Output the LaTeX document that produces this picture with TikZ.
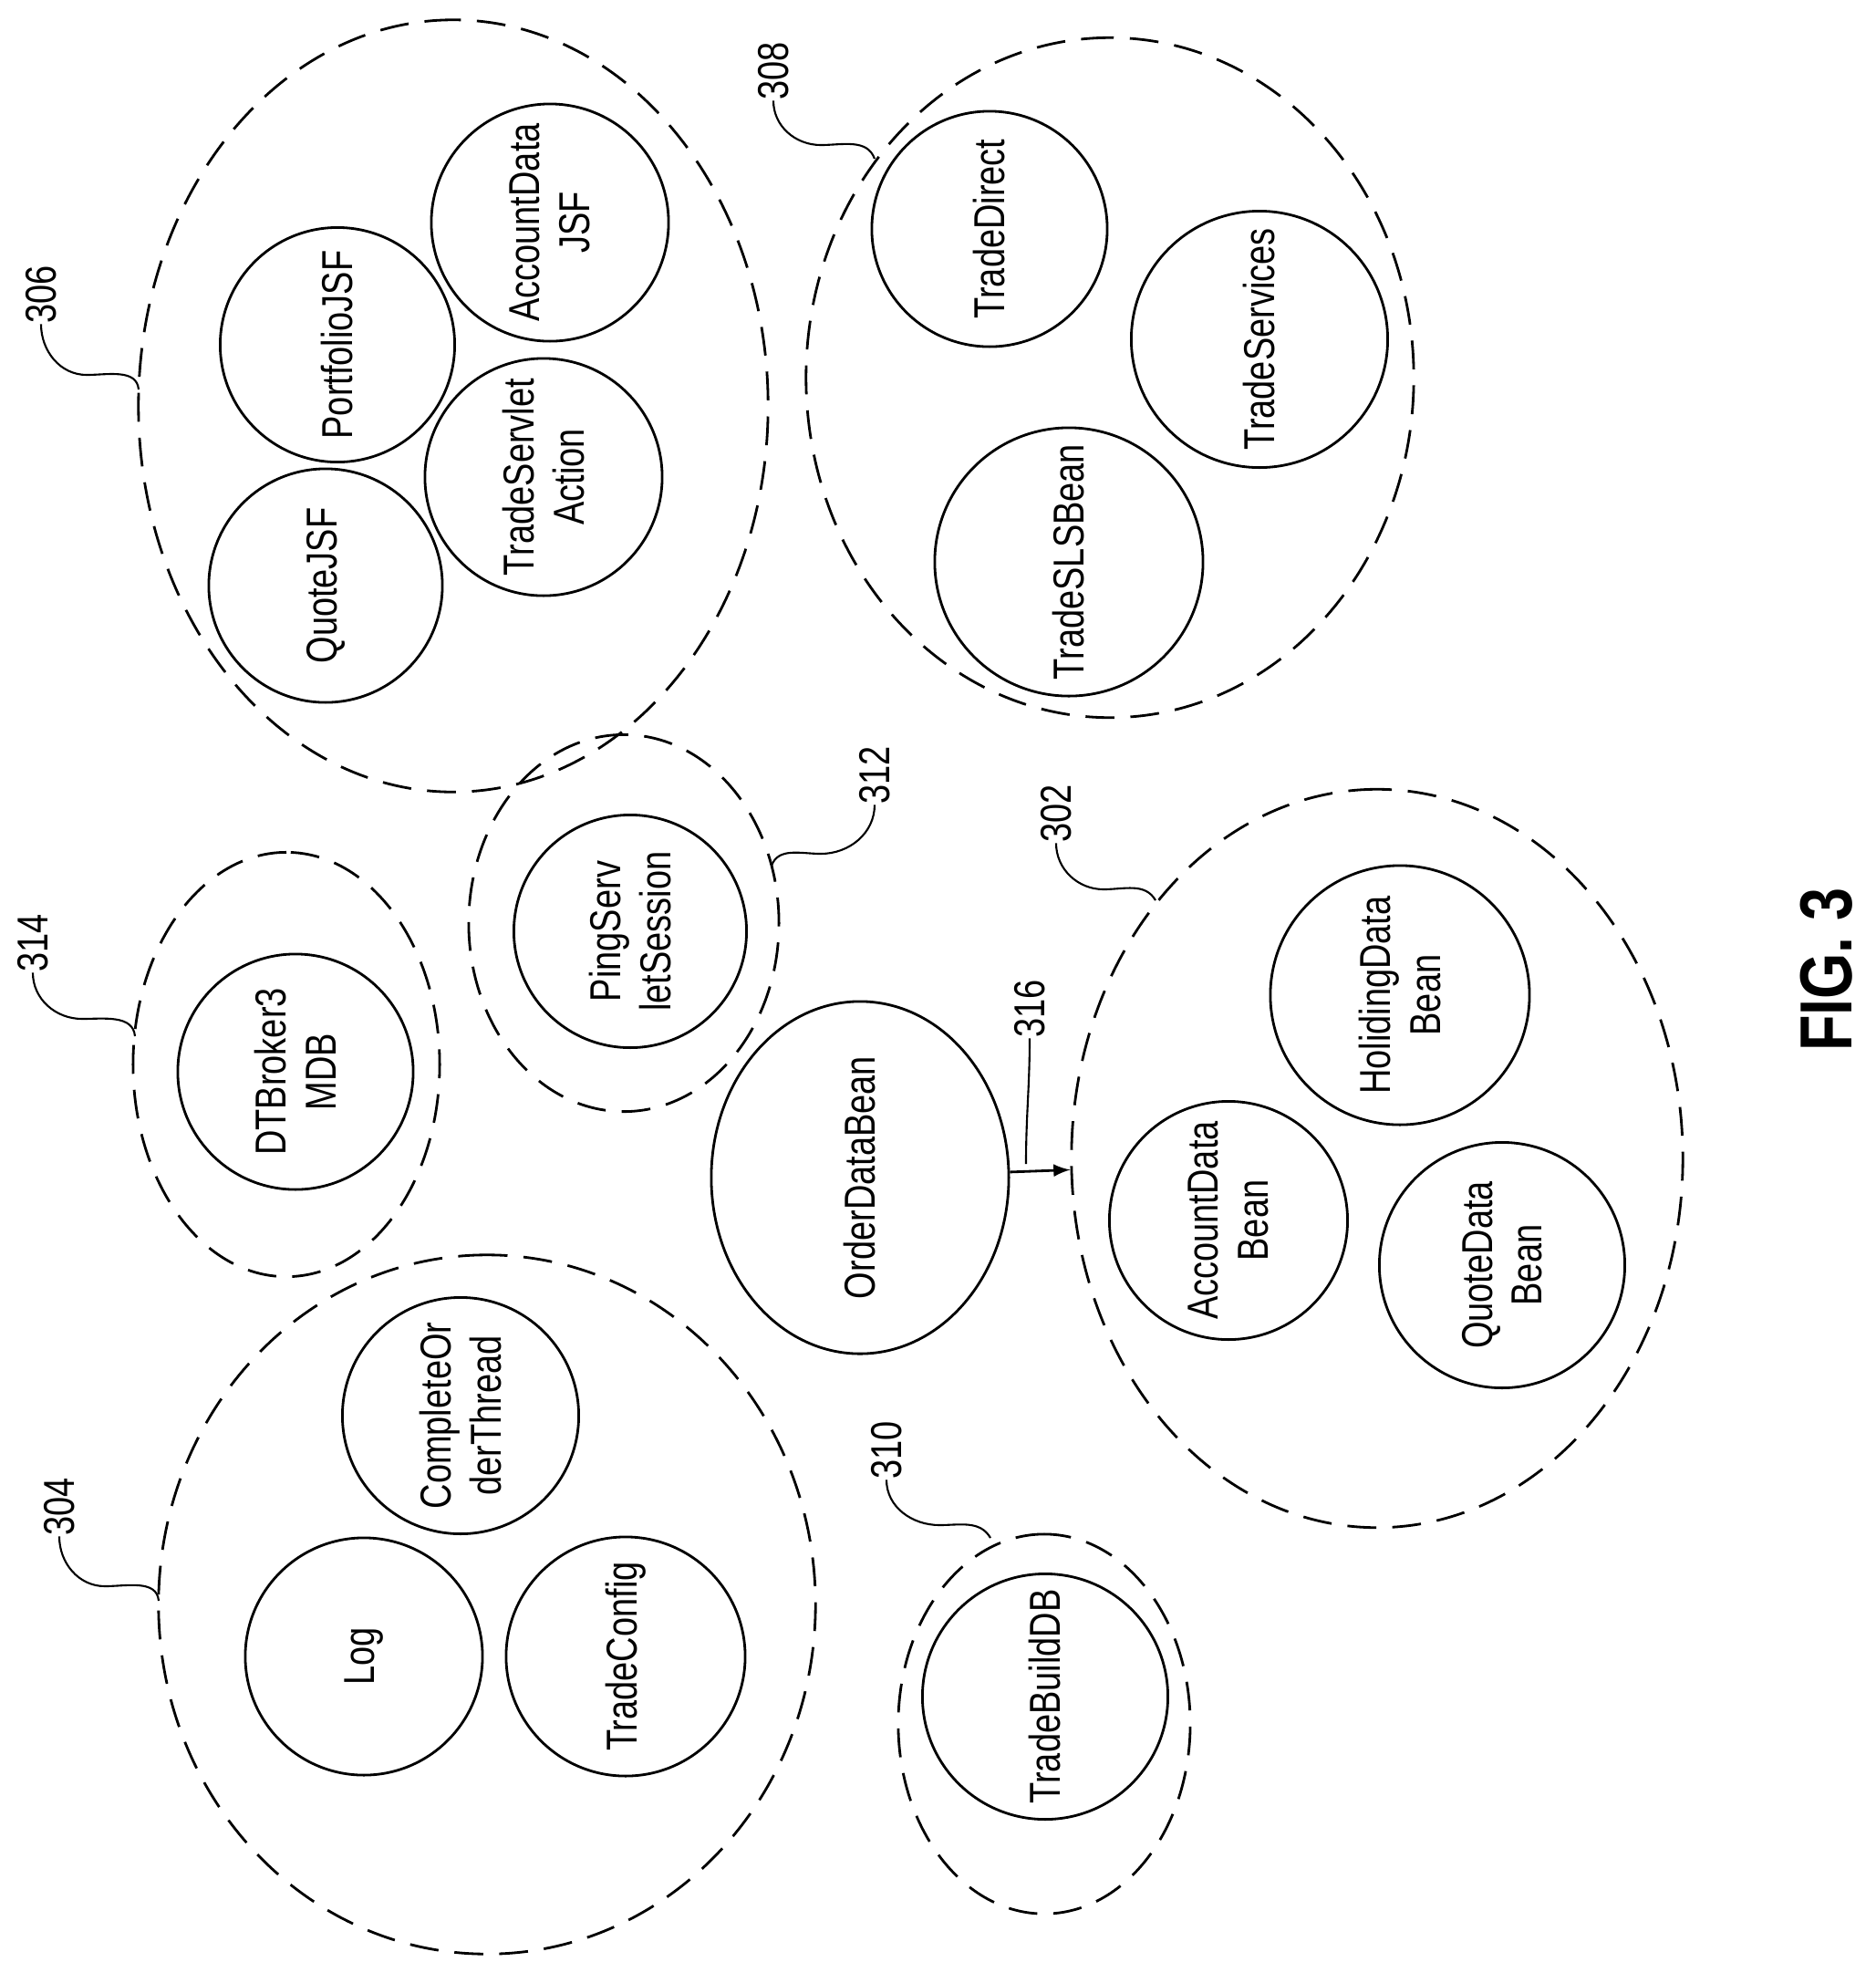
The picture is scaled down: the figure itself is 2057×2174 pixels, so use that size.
\documentclass[tikz,border=0pt]{standalone}
\usepackage{fontspec}
\setmainfont{Liberation Sans}[FakeStretch=0.8]
\usetikzlibrary{shapes.geometric}
\tikzset{
    every node/.style={font=\fontsize{13.5}{15.5}\selectfont, align=center, rotate=90, inner sep=0pt},
    comp/.style={circle, draw, line width=0.8pt},
    group/.style={ellipse, draw, dash pattern=on 9pt off 5pt, line width=0.8pt},
    lead/.style={line width=0.6pt}
}
\begin{document}
\begin{tikzpicture}[x=0.01cm, y=-0.01cm]
	\useasboundingbox (0,0) rectangle (2057,2174);
	% dashed groups (width is the vertical extent, the nodes are turned)
	\node (g306) [group, minimum width=8.46cm, minimum height=6.90cm] at (497,445) {};
	\node (g308) [group, minimum width=7.45cm, minimum height=6.66cm] at (1217,414) {};
	\node (g312) [group, minimum width=4.13cm, minimum height=3.40cm] at (684,1012) {};
	\node (g314) [group, minimum width=4.65cm, minimum height=3.36cm] at (314,1167) {};
	\node (g302) [group, minimum width=8.09cm, minimum height=6.70cm] at (1510,1270) {};
	\node (g304) [group, minimum width=7.66cm, minimum height=7.20cm] at (534,1759) {};
	\node (g310) [group, minimum width=4.16cm, minimum height=3.20cm] at (1145,1890) {};
	% components
	\node (quote) [comp, minimum size=2.56cm] at (357,642) {QuoteJSF};
	\node (portf) [comp, minimum size=2.57cm] at (370,378) {PortfolioJSF};
	\node (accjsf) [comp, minimum size=2.60cm] at (603,244) {AccountData\\JSF};
	\node (servl) [comp, minimum size=2.60cm] at (596,523) {TradeServlet\\Action};
	\node (tdir) [comp, minimum size=2.58cm] at (1085,251) {TradeDirect};
	\node (tserv) [comp, minimum size=2.81cm] at (1381,372) {TradeServices};
	\node (tsls) [comp, minimum size=2.94cm] at (1172,616) {TradeSLSBean};
	\node (ping) [comp, minimum size=2.55cm] at (691,1021) {PingServ\\letSession};
	\node (dtb) [comp, minimum size=2.58cm] at (324,1175) {DTBroker3\\MDB};
	\node (odb) [comp, ellipse, minimum width=3.86cm, minimum height=3.26cm] at (943,1291) {OrderDataBean};
	\node (hold) [comp, minimum size=2.84cm] at (1535,1091) {HolidingData\\Bean};
	\node (accb) [comp, minimum size=2.61cm] at (1347,1338) {AccountData\\Bean};
	\node (qdb) [comp, minimum size=2.69cm] at (1647,1387) {QuoteData\\Bean};
	\node (cot) [comp, minimum size=2.59cm] at (505,1552) {CompleteOr\\derThread};
	\node (log) [comp, minimum size=2.60cm] at (399,1816) {Log};
	\node (tcfg) [comp, minimum size=2.62cm] at (686,1816) {TradeConfig};
	\node (tbdb) [comp, minimum size=2.69cm] at (1146,1860) {TradeBuildDB};

	\draw[-latex, line width=0.8pt] (odb) -- (g302);

	% reference numerals
	\node (l306) at (45,323) {306};
	\node (l308) at (848,78) {308};
	\node (l312) at (959,850) {312};
	\node (l314) at (36,1034) {314};
	\node (l316) at (1129,1106) {316};
	\node (l302) at (1158,892) {302};
	\node (l304) at (65,1652) {304};
	\node (l310) at (972,1590) {310};
	\node (fig) [font=\fontsize{23}{25}\selectfont\bfseries] at (2003,1063) {FIG. 3};

	\draw[lead] (l306.west) to[out=-90,in=180] (95,411) to[out=0,in=95] (152,427);
	\draw[lead] (l308.west) to[out=-90,in=180] (900,159) to[out=0,in=110] (959,174);
	\draw[lead] (l312.west) to[out=-90,in=0] (900,936) to[out=180,in=70] (846,949);
	\draw[lead] (l314.west) to[out=-90,in=180] (90,1117) to[out=0,in=95] (148,1136);
	\draw[lead] (l316.west) to[out=-90,in=90] (1125,1276);
	\draw[lead] (l302.west) to[out=-90,in=180] (1210,975) to[out=0,in=120] (1267,987);
	\draw[lead] (l304.west) to[out=-90,in=180] (115,1739) to[out=0,in=95] (174,1755);
	\draw[lead] (l310.west) to[out=-90,in=180] (1030,1672) to[out=0,in=120] (1086,1686);
\end{tikzpicture}
\end{document}
